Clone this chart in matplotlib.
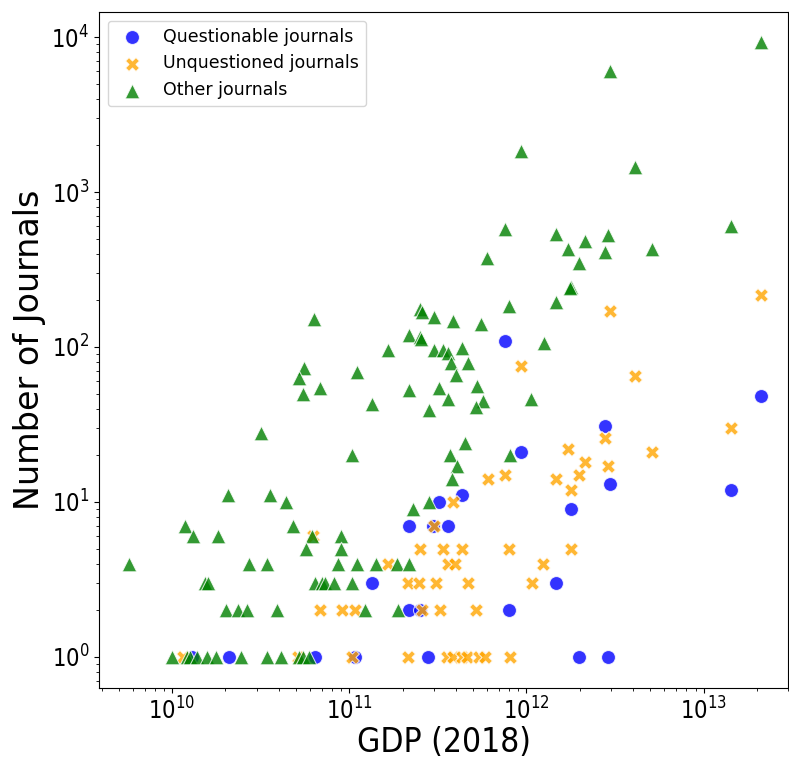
"""GDP vs number of journals, log-log scatter"""

import matplotlib
matplotlib.use("Agg")
import matplotlib.pyplot as plt

plt.rcParams["font.family"] = ["DejaVu Sans"]
plt.rcParams["font.stretch"] = "condensed"

# GDP in billions USD, journal counts
q_gdp = [13.0, 21.0, 64.3, 108, 279, 1967, 2870, 135, 218, 252, 218, 298,
         362, 322, 435, 802, 1477, 1774, 2944, 2758, 937, 761, 14220, 20990]
q_cnt = [1, 1, 1, 1, 1, 1, 1, 3, 2, 2, 7, 7,
         7, 10, 11, 2, 3, 9, 13, 31, 21, 110, 12, 48]

u_gdp = [11.5, 51.5, 104, 215, 358, 387, 435, 464, 542, 586, 812,
         68.5, 91.3, 108, 258, 327, 522,
         215, 248, 310, 470, 1081,
         166, 362, 397, 1247,
         252, 340, 435, 802, 1774,
         62.6, 302, 387,
         610, 1459, 761, 1774, 1967, 1706, 2128, 2870, 2758, 5082,
         14220, 937, 4074, 2944, 20990]
u_cnt = [1, 1, 1, 1, 1, 1, 1, 1, 1, 1, 1,
         2, 2, 2, 2, 2, 2,
         3, 3, 3, 3, 3,
         4, 4, 4, 4,
         5, 5, 5, 5, 5,
         6, 7, 10,
         14, 14, 15, 12, 15, 22, 18, 17, 26, 21,
         30, 75, 65, 170, 215]

o_gdp = [20990, 2944, 937, 4074, 14220, 761, 1459, 2870, 2128, 1706, 2758,
         5082, 602, 1967, 1774, 1750, 1477, 802, 1264, 1067, 812,
         387, 557, 252, 257, 302, 218, 252, 255, 166, 302, 340, 362, 435,
         377, 470, 402, 218, 322, 362, 529, 571, 522, 283, 447, 372,
         407, 382,
         63.4, 55.7, 52.2, 110, 68.5, 55, 135, 31.8, 103,
         20.7, 35.8, 44, 11.8, 13.1, 18.2, 48.3, 61.8, 90.2, 57.1, 90.2,
         230, 283,
         5.7, 27.2, 34.4, 86.7, 111, 142, 187, 218,
         15.4, 16.0, 64.3, 70.4, 73.2, 82.3, 104,
         20.2, 23.6, 26.5, 39.2, 122, 189,
         10, 12.2, 12.6, 13.8, 15.8, 17.7, 24.5, 34.4, 41.3, 52.2, 55, 59.4]
o_cnt = [9300, 6000, 1850, 1450, 600, 580, 540, 530, 480, 430, 410,
         430, 375, 350, 245, 240, 195, 185, 106, 46, 20,
         147, 140, 176, 168, 156, 119, 116, 112, 96, 96, 96, 91, 98,
         79, 79, 66, 53, 54, 46, 56, 45, 41, 39, 24, 20,
         17, 14,
         152, 73, 63, 69, 54, 50, 43, 28, 20,
         11, 11, 10, 7, 6, 6, 7, 6, 6, 5, 5,
         9, 10,
         4, 4, 4, 4, 4, 4, 4, 4,
         3, 3, 3, 3, 3, 3, 3,
         2, 2, 2, 2, 2, 2,
         1, 1, 1, 1, 1, 1, 1, 1, 1, 1, 1, 1]

fig = plt.figure(figsize=(7.89, 7.58), dpi=100)
ax = fig.add_axes([0.1255, 0.0925, 0.8735, 0.8915])

kw = dict(alpha=0.8, edgecolors="white", linewidths=0.75)
ax.scatter([g * 1e9 for g in q_gdp], q_cnt, s=100, marker="o",
           color="blue", label="Questionable journals", **kw)
ax.scatter([g * 1e9 for g in u_gdp], u_cnt, s=100, marker="X",
           color="orange", label="Unquestioned journals", **kw)
ax.scatter([g * 1e9 for g in o_gdp], o_cnt, s=110, marker="^",
           color="green", label="Other journals", **kw)

ax.set_xscale("log")
ax.set_yscale("log")
ax.set_xlim(3.87e9, 3.0e13)
ax.set_ylim(0.63, 1.45e4)

ax.set_xlabel("GDP (2018)", fontsize=24, labelpad=1)
ax.set_ylabel("Number of Journals", fontsize=24, fontstretch="normal")
ax.tick_params(axis="both", which="major", labelsize=17)
ax.legend(loc="upper left", prop={"size": 12.5, "stretch": "normal"})

fig.savefig("out.png", dpi=100)
